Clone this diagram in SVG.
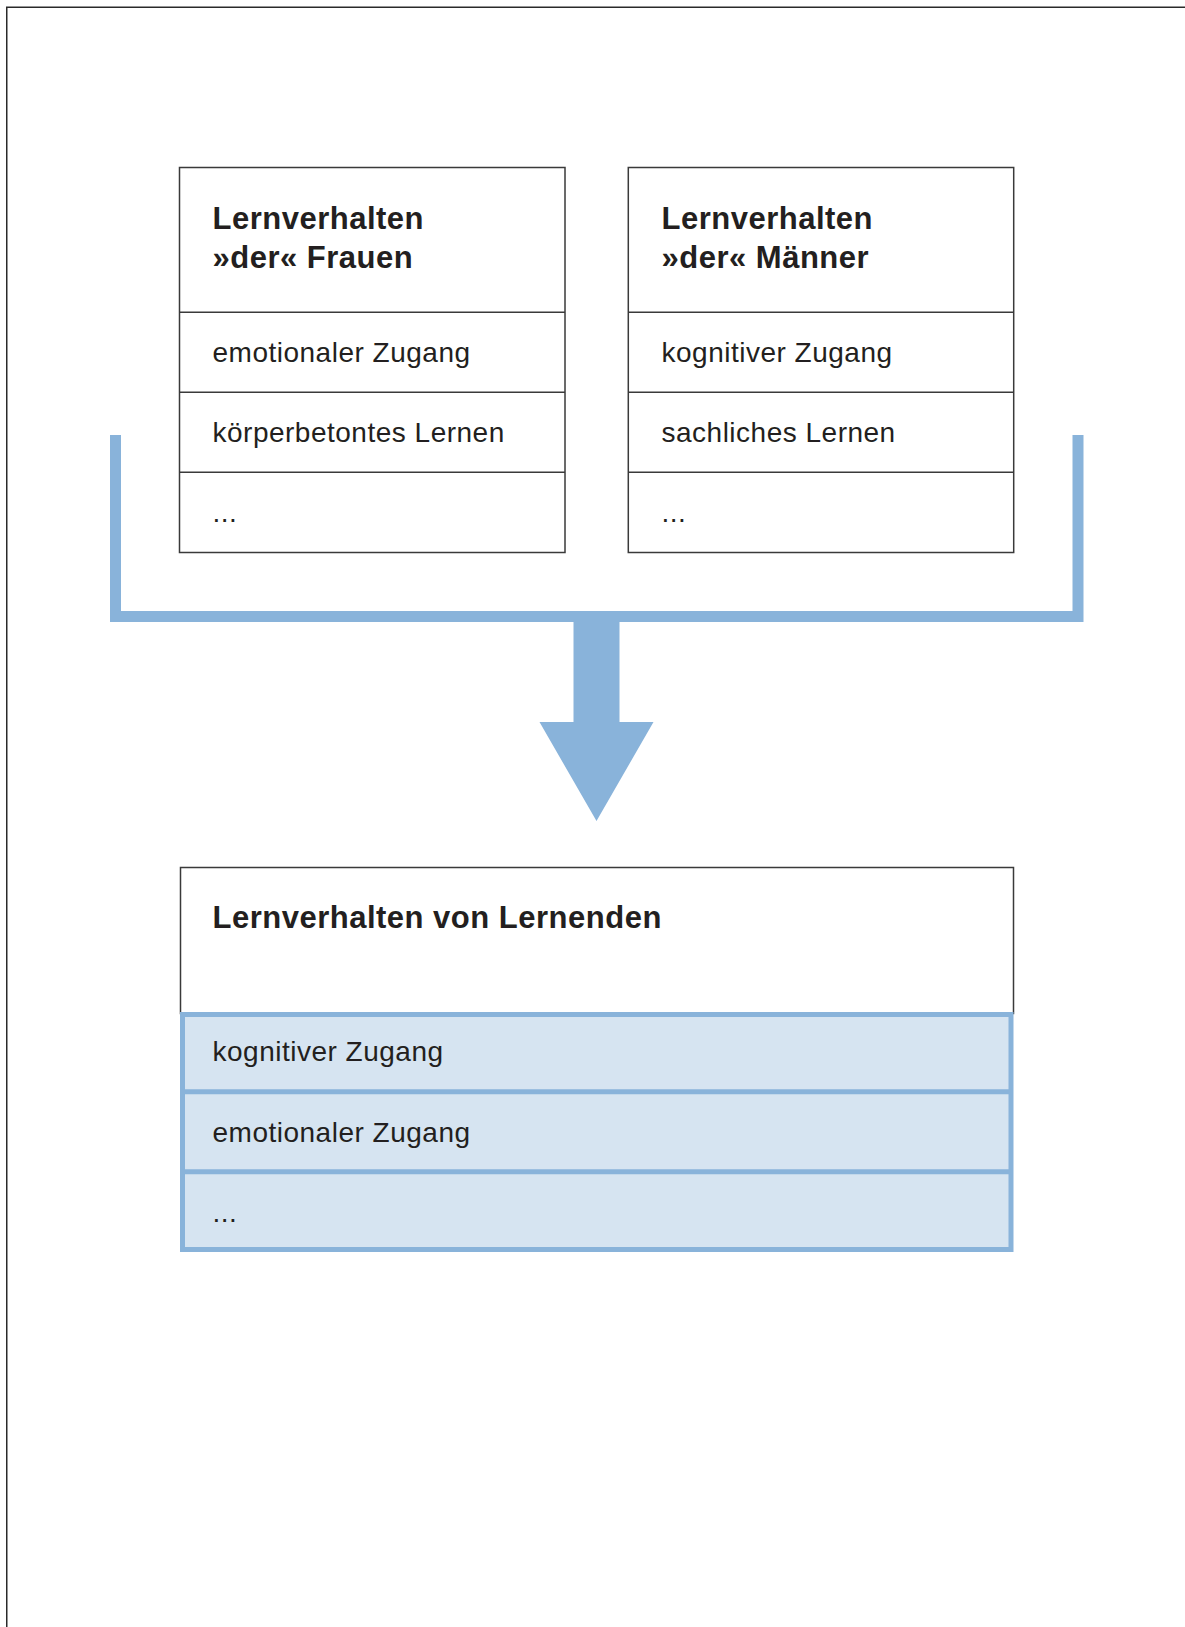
<svg xmlns="http://www.w3.org/2000/svg" width="1185" height="1627" viewBox="0 0 1185 1627">
<style>
.frame{fill:none;stroke:#2a2a2a;stroke-width:1.5}
.box{fill:#ffffff;stroke:#3a3a3a;stroke-width:1.5}
.div{stroke:#3a3a3a;stroke-width:1.5}
.hd{font-family:"Liberation Sans",Arial,sans-serif;font-weight:bold;font-size:31px;letter-spacing:0.5px;fill:#231f20}
.tx{font-family:"Liberation Sans",Arial,sans-serif;font-size:28px;letter-spacing:0.5px;fill:#231f20}
.blue{fill:none;stroke:#89b3da;stroke-width:11}
.bluefill{fill:#89b3da}
.res{fill:#d6e4f1;stroke:#89b3da;stroke-width:5}
.rdiv{stroke:#89b3da;stroke-width:5}
</style>
<rect width="1185" height="1627" fill="#ffffff"/>
<path class="frame" d="M6.75,1627 V7.25 H1185"/>
<g id="connectors">
<path class="blue" d="M115.5,435 V616.5 H1078 V435"/>
<path class="bluefill" d="M573.5,616 H619.5 V722 H653.5 L596.5,821 L539.5,722 H573.5 Z"/>
</g>
<g id="node-frauen">
<rect class="box" x="179.5" y="167.5" width="385.5" height="385"/>
<line class="div" x1="179.5" y1="312.3" x2="565" y2="312.3"/>
<line class="div" x1="179.5" y1="392.3" x2="565" y2="392.3"/>
<line class="div" x1="179.5" y1="472.3" x2="565" y2="472.3"/>
<text class="hd" x="212.5" y="229">Lernverhalten</text>
<text class="hd" x="212.5" y="267.7">»der« Frauen</text>
<text class="tx" x="212.5" y="361.7">emotionaler Zugang</text>
<text class="tx" x="212.5" y="441.7">körperbetontes Lernen</text>
<text class="tx" x="212.5" y="521.7">...</text>
</g>
<g id="node-maenner">
<rect class="box" x="628.3" y="167.5" width="385.4" height="385"/>
<line class="div" x1="628.3" y1="312.3" x2="1013.7" y2="312.3"/>
<line class="div" x1="628.3" y1="392.3" x2="1013.7" y2="392.3"/>
<line class="div" x1="628.3" y1="472.3" x2="1013.7" y2="472.3"/>
<text class="hd" x="661.5" y="229">Lernverhalten</text>
<text class="hd" x="661.5" y="267.7">»der« Männer</text>
<text class="tx" x="661.5" y="361.7">kognitiver Zugang</text>
<text class="tx" x="661.5" y="441.7">sachliches Lernen</text>
<text class="tx" x="661.5" y="521.7">...</text>
</g>
<g id="node-lernende">
<rect class="box" x="180.5" y="867.5" width="833" height="146"/>
<rect class="res" x="182.5" y="1014.5" width="828.5" height="235"/>
<line class="rdiv" x1="182.5" y1="1091.7" x2="1011" y2="1091.7"/>
<line class="rdiv" x1="182.5" y1="1171.8" x2="1011" y2="1171.8"/>
<text class="hd" x="212.5" y="928.3">Lernverhalten von Lernenden</text>
<text class="tx" x="212.5" y="1061">kognitiver Zugang</text>
<text class="tx" x="212.5" y="1141.7">emotionaler Zugang</text>
<text class="tx" x="212.5" y="1221.7">...</text>
</g>
</svg>
